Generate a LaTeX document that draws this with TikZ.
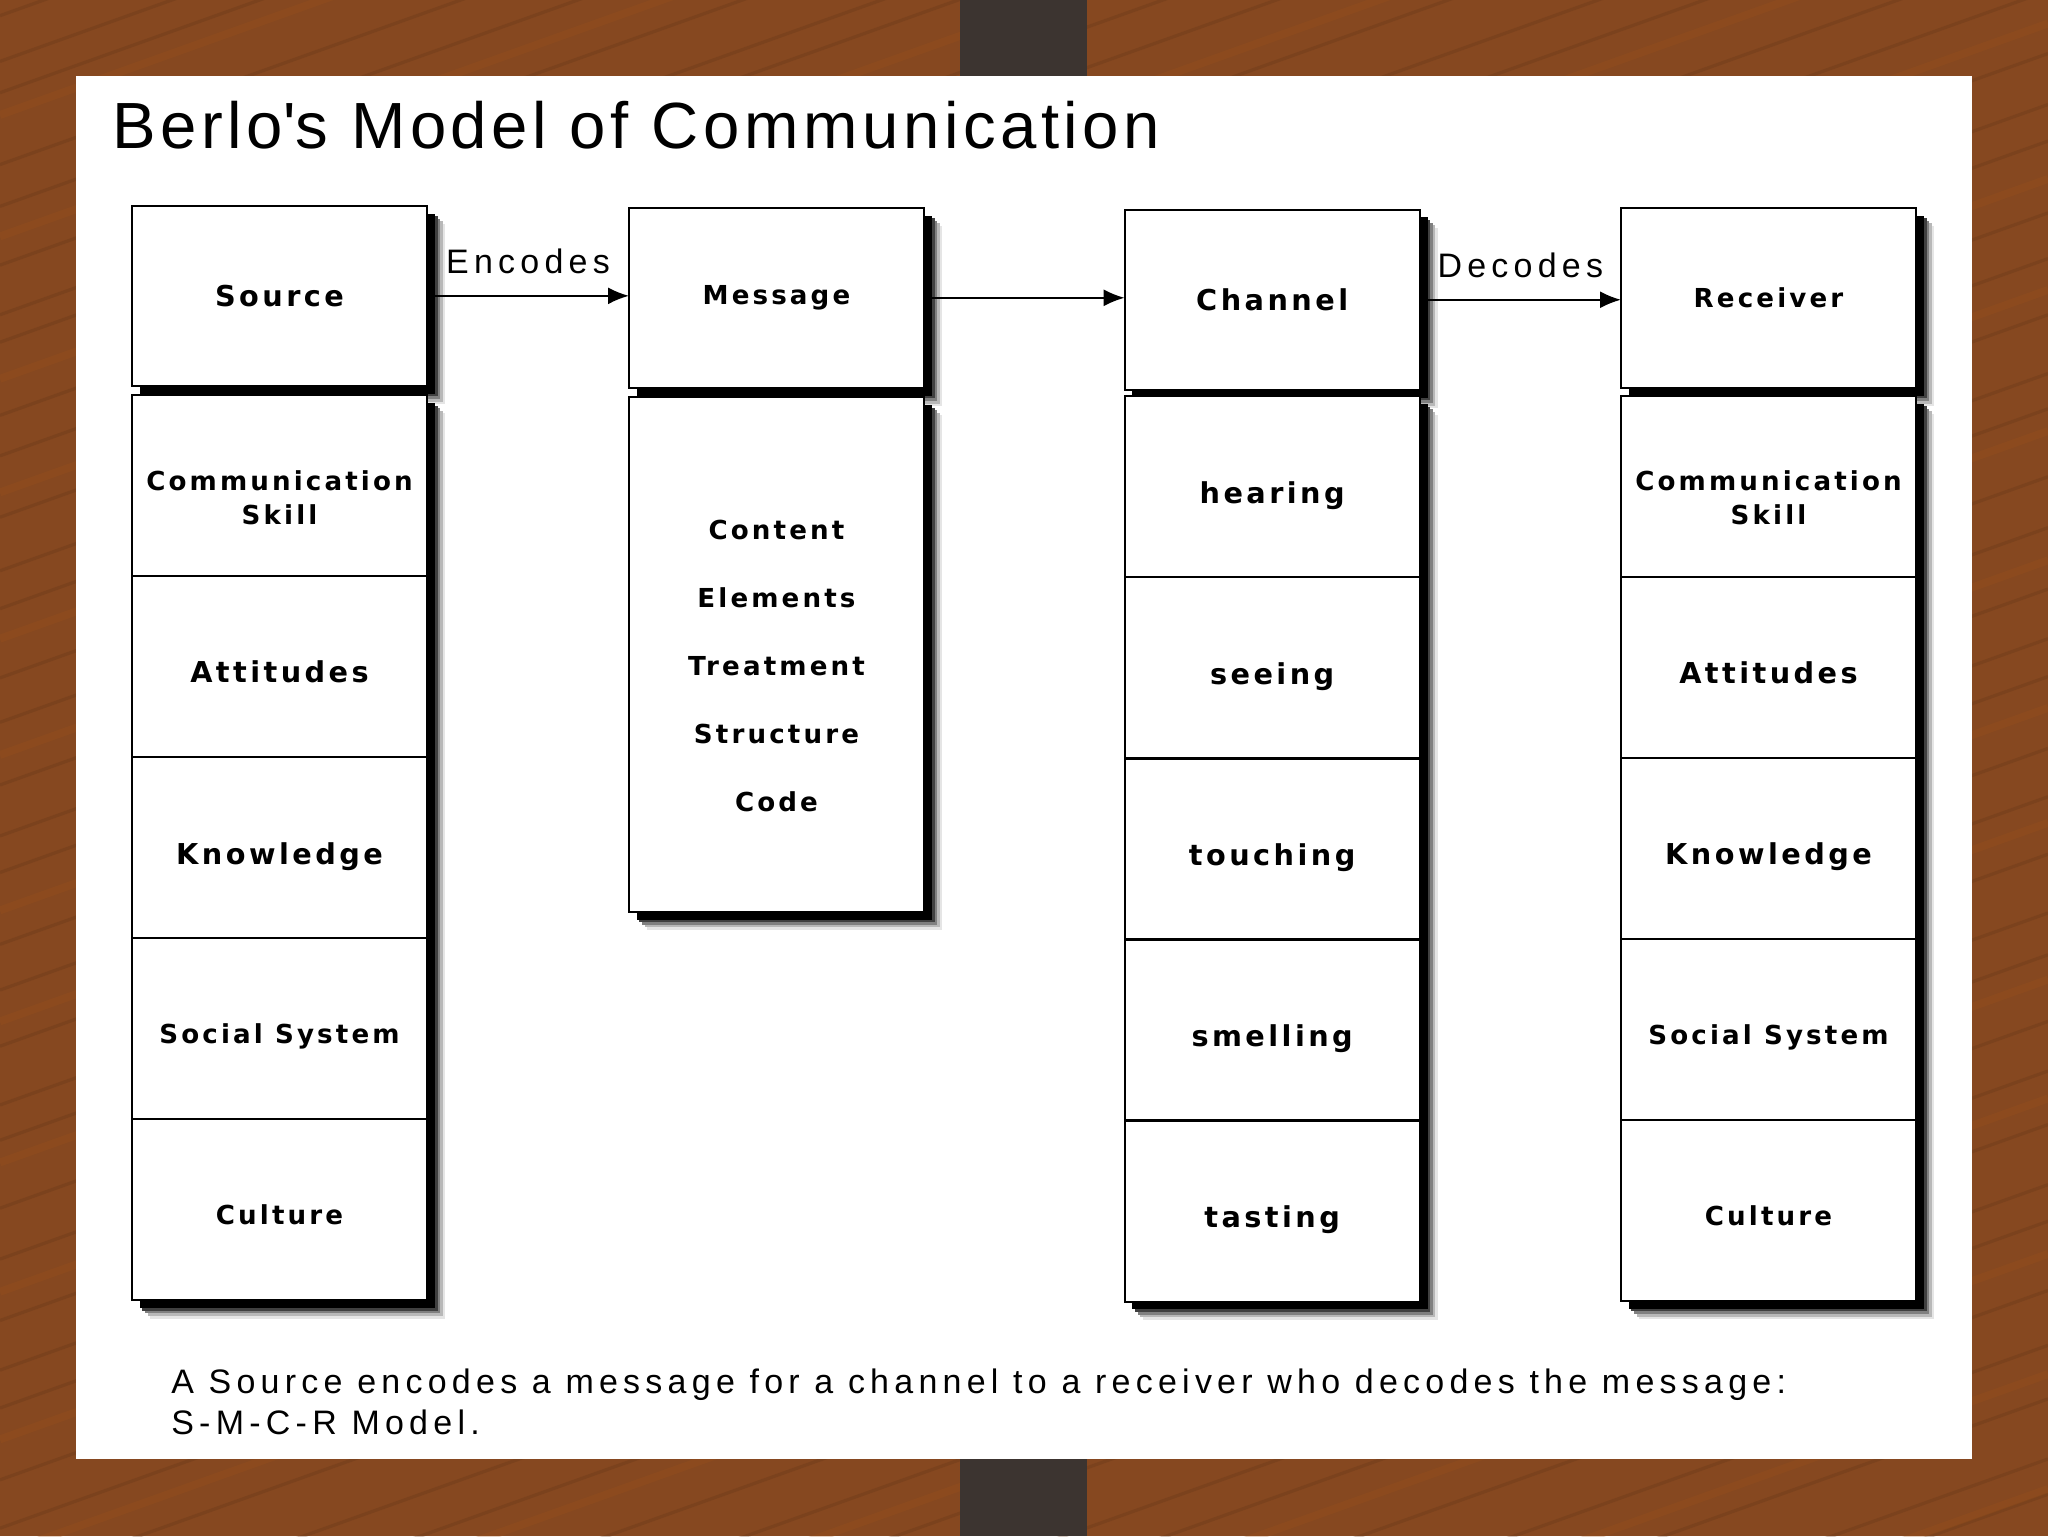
\documentclass[tikz,border=0pt]{standalone}
\usepackage{fontspec}
\setmainfont{Liberation Sans}
\newfontfamily\titlefont[LetterSpace=7]{Liberation Sans}
\newfontfamily\notefont[LetterSpace=15.5]{Liberation Sans}
\newfontfamily\cellfont[LetterSpace=12]{DejaVu Sans}
\usetikzlibrary{positioning,arrows.meta,shadows}

\definecolor{wood}{RGB}{134,72,32}
\definecolor{clipbar}{RGB}{60,52,48}

\tikzset{
  boxshade/.style={
    drop shadow={shadow xshift=14pt,shadow yshift=-14pt,fill=black!10,opacity=1},
    drop shadow={shadow xshift=12pt,shadow yshift=-12pt,fill=black!28,opacity=1},
    drop shadow={shadow xshift=10pt,shadow yshift=-10pt,fill=black!50,opacity=1},
    drop shadow={shadow xshift=8pt,shadow yshift=-8pt,fill=black!75,opacity=1},
    drop shadow={shadow xshift=6pt,shadow yshift=-6pt,fill=black,opacity=1}},
  bigtext/.style={font=\cellfont\bfseries\fontsize{22}{26}\selectfont},
  smalltext/.style={font=\cellfont\bfseries\fontsize{20}{26}\selectfont},
  headbox/.style={draw,fill=white,line width=1.6pt,minimum width=226pt,
    minimum height=138pt,outer sep=0pt,align=center,boxshade},
  cellbox/.style={headbox,minimum height=138.6pt},
  bigcell/.style={cellbox,bigtext,text height=27pt,text depth=2pt},
  smallcell/.style={cellbox,smalltext,text height=25pt,text depth=2.4pt},
  flow/.style={-{Latex[length=16pt,width=13pt]},line width=1.4pt},
  tag/.style={font=\notefont\fontsize{26}{30}\selectfont,inner sep=0pt},
  grain/.style={line width=2.5pt,draw=wood!70!black,opacity=.25},
  sheen/.style={line width=6pt,draw=wood!80!orange,opacity=.25},
}

\begin{document}
\begin{tikzpicture}[x=1pt,y=-1pt]
% wood and clip
\useasboundingbox (0,0) rectangle (1568,1176);
\fill[wood] (0,0) rectangle (1568,1176);
\foreach \k in {-560,-517,-488,-431,-402,-351,-309,-282,-227,-190,-163,-111,-72,-41,
    12,47,71,126,158,203,241,262,318,349,396,437,466,519,553,601,640,668,723,758,
    801,846,873,925,964,1011,1049,1078,1133,1170,1214,1259,1291,1342,1380,1421,
    1467,1495,1548,1590,1631,1677,1704}
  \draw[grain] (0,\k) -- (1568,\k-560);
\foreach \k in {-530,-452,-371,-250,-141,-20,88,181,290,377,489,578,697,782,
    890,989,1102,1190,1310,1401,1520,1612,1700}
  \draw[sheen] (0,\k) -- (1568,\k-560);
\fill[clipbar] (735,0) rectangle (832,58);
\fill[clipbar] (735,1117) rectangle (832,1176);
\fill[white] (58,58) rectangle (1510,1117);

\node[anchor=base west,inner sep=0pt,font=\titlefont\fontsize{50}{58}\selectfont]
  (title) at (86,114) {Berlo\textquotesingle s Model of Communication};

% S - M - C - R
\node[headbox,bigtext] (src) at (214,226.5) {Source};
\node[headbox,smalltext] (msg) at (594.5,228) {Message};
\node[headbox,bigtext] (chan) at (974,229.5) {Channel};
\node[headbox,smalltext] (recv) at (1354,228) {Receiver};

% source column
\node[cellbox,below=7pt of src] (src1) {};
\node[smalltext,align=center] (src1t) at ([yshift=-9pt]src1.center) {Communication\\Skill};
\node[bigcell,below=0pt of src1] (src2) {Attitudes};
\node[bigcell,below=0pt of src2] (src3) {Knowledge};
\node[smallcell,below=0pt of src3] (src4) {Social System};
\node[smallcell,below=0pt of src4] (src5) {Culture};

% message column
\node[headbox,minimum height=394pt,below=7pt of msg] (msgbody) {};
\node[align=center,font=\cellfont\bfseries\fontsize{20}{52}\selectfont]
  (msgitems) at ([yshift=-9pt]msgbody.center)
  {Content\\Elements\\Treatment\\Structure\\Code};

% channel column
\node[bigcell,below=5pt of chan] (chan1) {hearing};
\node[bigcell,below=0pt of chan1] (chan2) {seeing};
\node[bigcell,below=0pt of chan2] (chan3) {touching};
\node[bigcell,below=0pt of chan3] (chan4) {smelling};
\node[bigcell,below=0pt of chan4] (chan5) {tasting};

% receiver column
\node[cellbox,below=6pt of recv] (recv1) {};
\node[smalltext,align=center] (recv1t) at ([yshift=-9pt]recv1.center) {Communication\\Skill};
\node[bigcell,below=0pt of recv1] (recv2) {Attitudes};
\node[bigcell,below=0pt of recv2] (recv3) {Knowledge};
\node[smallcell,below=0pt of recv3] (recv4) {Social System};
\node[smallcell,below=0pt of recv4] (recv5) {Culture};

\draw[flow] (src.east) -- node[tag,above=16pt] {Encodes} (src.east -| msg.west);
\draw[flow] (msg.east) -- (msg.east -| chan.west);
\draw[flow] (chan.east) -- node[tag,above=16pt] {Decodes} (chan.east -| recv.west);

\node[anchor=base west,tag] (noteA) at (131,1067)
  {A Source encodes a message for a channel to a receiver who decodes the message:};
\node[anchor=base west,tag] (noteB) at (131,1098) {S-M-C-R Model.};
\end{tikzpicture}
\end{document}
